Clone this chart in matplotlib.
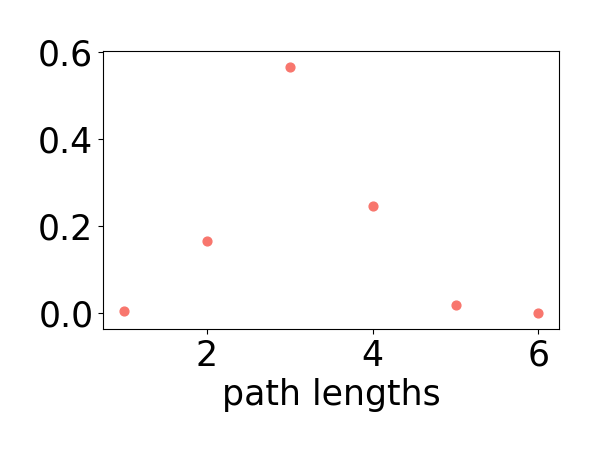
import matplotlib
matplotlib.use("Agg")
import matplotlib.pyplot as plt

# path length distribution
path_lengths = [1, 2, 3, 4, 5, 6]
fractions = [0.005, 0.165, 0.566, 0.245, 0.018, 0.0]

plt.rcParams['font.family'] = ['DejaVu Sans']
plt.rcParams['font.size'] = 25

fig = plt.figure(figsize=(6, 4.5), dpi=100)
ax = fig.add_axes([0.172, 0.269, 0.760, 0.618])
ax.scatter(path_lengths, fractions, color='#f8766d', s=40, zorder=3)
ax.set_xlabel('path lengths', fontsize=25)
ax.set_xticks([2, 4, 6])
ax.set_yticks([0.0, 0.2, 0.4, 0.6])
ax.set_ylim(-0.036, 0.602)

fig.savefig('out.png', dpi=100)
